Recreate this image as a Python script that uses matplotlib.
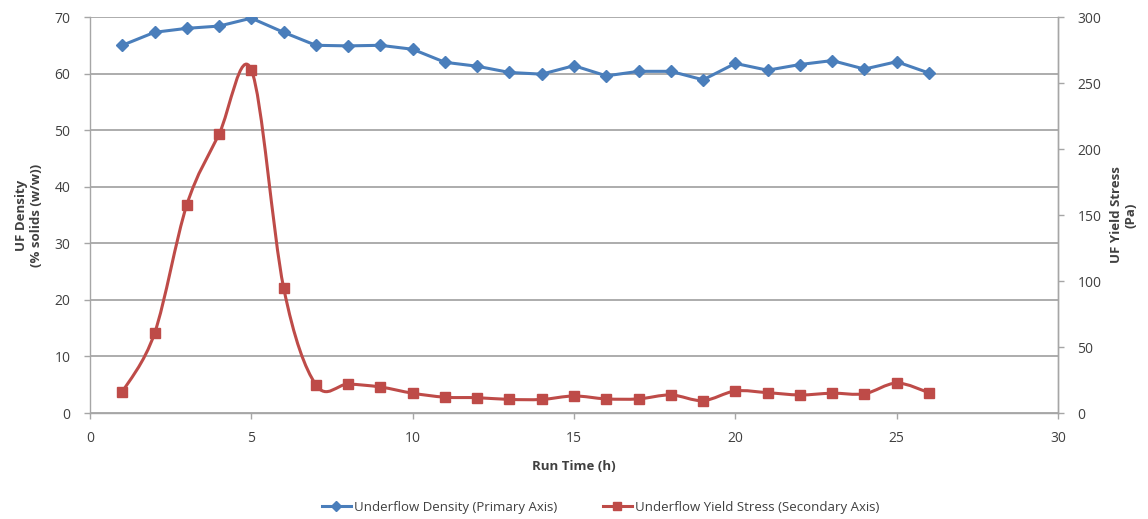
import numpy as np
import matplotlib
matplotlib.use("Agg")
import matplotlib.pyplot as plt
from matplotlib.path import Path
from matplotlib.patches import PathPatch
from matplotlib.lines import Line2D

run_time = [1, 2, 3, 4, 5, 6, 7, 8, 9, 10, 11, 12, 13, 14, 15, 16, 17, 18, 19, 20, 21, 22, 23, 24, 25, 26]
uf_density = [65.0, 67.3, 68.0, 68.4, 69.8, 67.3, 65.0, 64.9, 65.0, 64.3, 62.0, 61.3, 60.2, 59.9, 61.4,
              59.6, 60.4, 60.4, 58.9, 61.8, 60.6, 61.6, 62.3, 60.8, 62.1, 60.1]
uf_yield = [15.9, 60.4, 157.7, 211.3, 260.0, 95.0, 21.4, 21.9, 19.7, 15.0, 12.0, 11.6, 10.3, 10.3, 12.9,
            10.7, 10.7, 13.7, 9.4, 16.7, 15.4, 13.7, 15.0, 14.6, 22.7, 15.4]

label_density = "Underflow Density (Primary Axis)"
label_yield = "Underflow Yield Stress (Secondary Axis)"

BLUE = "#4A7EBB"
RED = "#BE4B48"
GRID = "#A6A6A6"
TXT = "#404040"

plt.rcParams['font.family'] = ['Open Sans', 'DejaVu Sans']

fig = plt.figure(figsize=(11.48, 5.19), dpi=100)
ax = fig.add_axes([0.0784, 0.2042, 0.8432, 0.7630])
ax2 = ax.twinx()

ax.set_xlim(0, 30)
ax.set_ylim(0, 70)
ax2.set_ylim(0, 300)
ax.set_xticks(range(0, 31, 5))
ax.set_yticks(range(0, 71, 10))
ax2.set_yticks(range(0, 301, 50))

ax.grid(axis='y', color=GRID, lw=1.3)
ax.set_axisbelow(True)
for a in (ax, ax2):
    a.spines['top'].set_visible(False)
    for s in ('left', 'right', 'bottom'):
        a.spines[s].set_color(GRID)
        a.spines[s].set_linewidth(1.0)
ax2.spines['bottom'].set_visible(False)
ax2.spines['left'].set_visible(False)

ax.tick_params(axis='x', colors=GRID, labelcolor=TXT, labelsize=10, length=4, width=1, direction='out', pad=9)
ax.tick_params(axis='y', colors=GRID, labelcolor=TXT, labelsize=10, length=4, width=1, direction='out', pad=10)
ax2.tick_params(axis='y', colors=GRID, labelcolor=TXT, labelsize=10, length=4, width=1, direction='out', pad=10)

# Blue density line (straight segments)
ax.plot(run_time, uf_density, color=BLUE, lw=2.2, marker='D', ms=6, mfc=BLUE, mec=BLUE, zorder=3)

# Red yield stress, smoothed (Excel-style Catmull-Rom Bezier)
x = np.asarray(run_time, float)
y = np.asarray(uf_yield, float)
n = len(x)
verts = [(x[0], y[0])]
codes = [Path.MOVETO]
for i in range(n - 1):
    p0 = (x[max(i - 1, 0)], y[max(i - 1, 0)])
    p1 = (x[i], y[i])
    p2 = (x[i + 1], y[i + 1])
    p3 = (x[min(i + 2, n - 1)], y[min(i + 2, n - 1)])
    c1 = (p1[0] + (p2[0] - p0[0]) / 6, p1[1] + (p2[1] - p0[1]) / 6)
    c2 = (p2[0] - (p3[0] - p1[0]) / 6, p2[1] - (p3[1] - p1[1]) / 6)
    verts += [c1, c2, p2]
    codes += [Path.CURVE4] * 3
ax2.add_patch(PathPatch(Path(verts, codes), fc='none', ec=RED, lw=2.2, zorder=3))
ax2.plot(run_time, uf_yield, ls='none', marker='s', ms=7.5, mfc=RED, mec=RED, zorder=4)

ax.set_xlabel("Run Time (h)", fontsize=9.5, fontweight='bold', color=TXT, labelpad=10)
ax.set_ylabel("UF Density\n(% solids (w/w))", fontsize=9.5, fontweight='bold', color=TXT, labelpad=8)
ax2.set_ylabel("UF Yield Stress\n(Pa)", fontsize=9.5, fontweight='bold', color=TXT, labelpad=6)

handles = [Line2D([], [], color=BLUE, lw=2.2, marker='D', ms=5),
           Line2D([], [], color=RED, lw=2.2, marker='s', ms=6)]
fig.legend(handles, [label_density, label_yield], loc='center', bbox_to_anchor=(0.523, 0.022),
           ncol=2, frameon=False, fontsize=9.5, handlelength=2.2, columnspacing=3.5,
           handletextpad=0.2, labelcolor=TXT)

fig.savefig("out.png", dpi=100)
